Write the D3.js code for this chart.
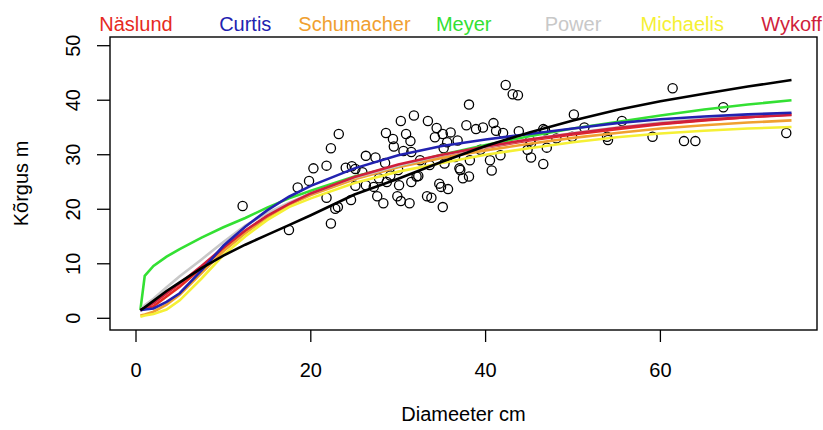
<!DOCTYPE html>
<html>
<head>
<meta charset="utf-8">
<script src="https://cdn.jsdelivr.net/npm/d3@7"></script>
<style>
  body { margin: 0; background: #fff; }
  text { font-family: "Liberation Sans", Arial, sans-serif; }
</style>
</head>
<body>
<div id="chart"></div>
<script>
// observed trees: diameter (cm) and height (m)
var diam = [12.2,17.5,18.5,19.8,20.3,21.8,22.3,23.2,21.8,22.8,23.1,22.3,24.0,24.7,24.6,25.1,26.3,26.3,27.4,27.2,
  27.6,28.3,30.3,31.8,28.6,29.4,30.9,31.4,29.5,30.6,33.4,34.4,34.2,35.1,36.0,35.6,36.8,38.1,37.8,38.9,
  39.7,40.9,41.2,42.0,42.3,43.1,43.7,43.8,29.1,30.1,31.5,32.3,29.9,30.3,31.3,33.3,33.8,34.7,34.9,35.7,
  35.1,35.3,37.0,37.4,38.1,40.5,40.7,45.2,46.6,47.0,45.2,44.8,50.1,46.6,51.3,55.6,53.9,54.0,48.1,59.1,
  61.4,62.7,64.0,67.2,74.4,49.9,30.0,32.1,37.1,36.5,35.2,45.1,46.8,31.5,28.7,25.1,27.8,32.5,33.6,39.4,
  41.7,38.2,25.9,28.5]
var height = [20.6,16.2,24.0,25.2,27.5,28.0,31.2,33.8,22.1,20.1,20.4,17.4,27.6,27.9,21.7,24.3,29.8,24.4,29.5,24.1,
  22.4,21.1,36.2,37.2,34.0,32.9,33.8,32.5,31.5,30.7,36.2,34.9,33.2,33.8,34.1,32.3,32.6,39.2,35.4,34.7,
  35.0,35.8,34.4,34.0,42.8,41.1,40.9,34.3,26.2,24.4,25.0,26.1,22.4,21.5,21.1,22.4,22.1,24.7,24.1,23.7,
  20.4,28.4,27.5,25.7,26.0,29.0,27.1,29.5,28.3,31.3,32.1,30.9,37.4,34.7,35.0,36.2,33.3,32.7,33.0,33.3,
  42.2,32.5,32.5,38.7,34.0,33.3,27.2,26.0,27.2,29.6,31.2,32.6,34.5,30.5,25.0,27.4,25.7,29.0,28.1,30.9,
  29.9,29.0,26.8,28.5]

// fitted curves at these diameters
var curveD = [0.5,1,2,3.5,5,7.5,10,12.5,15,17.5,20,25,30,35,40,45,50,55,60,65,70,75]
var naslund    = [1.5,1.7,2.2,4.0,5.8,9.2,12.8,16.0,18.7,21.0,22.9,25.8,28.0,29.8,31.3,32.6,33.7,34.7,35.6,36.3,36.9,37.4]
var curtis     = [1.5,1.6,1.8,3.0,4.6,8.8,13.3,16.8,19.8,22.3,24.3,27.5,29.9,31.6,32.8,33.8,34.8,35.8,36.5,37.0,37.4,37.7]
var schumacher = [0.5,0.7,1.2,2.5,4.3,8.3,12.3,15.6,18.5,20.8,22.6,25.5,27.7,29.4,30.8,32.0,33.1,34.0,34.8,35.4,35.9,36.3]
var meyer      = [1.5,7.8,9.6,11.3,12.7,14.8,16.7,18.4,20.3,22.0,23.4,26.0,28.0,30.0,31.8,33.4,34.8,36.0,37.2,38.3,39.2,40.0]
var power      = [1.5,2.4,3.6,5.7,7.7,10.8,14.0,17.0,19.3,21.2,22.9,25.8,28.0,29.9,31.4,32.8,34.0,35.0,35.9,36.6,37.1,37.5]
var michaelis  = [0.3,0.5,0.8,1.6,3.3,7.3,11.6,15.0,18.0,20.4,22.0,24.8,26.9,28.5,30.0,31.2,32.3,33.2,33.9,34.4,34.8,35.1]
var wykoff     = [1.5,1.9,2.8,4.6,6.4,9.6,13.0,16.1,18.8,21.0,22.9,25.9,28.2,30.0,31.5,32.8,33.9,34.9,35.7,36.4,36.9,37.3]
var smooth     = [1.5,2.0,3.2,5.0,6.6,9.2,11.5,13.5,15.3,17.1,18.9,22.7,25.6,28.7,31.6,34.1,36.3,38.2,39.8,41.2,42.5,43.7]

var modelNames  = ["Näslund","Curtis","Schumacher","Meyer","Power","Michaelis","Wykoff"]
var modelColors = ["#e62a22","#2222b0","#f0a030","#33e033","#c8c8c8","#f5f035","#d01f3c"]
var xTicks = [0,20,40,60]
var yTicks = [0,10,20,30,40,50]

var W = 823, H = 430
var box = {left:110, right:817, top:37, bottom:330}

var svg = d3.select("#chart").append("svg")
    .attr("width", W)
    .attr("height", H)

var x = d3.scaleLinear().domain([0,60]).range([136,660.4])
var y = d3.scaleLinear().domain([0,50]).range([318.3,45.7])

// curves, drawn in R's plotting order
var curves = {
  "Näslund":naslund, "Curtis":curtis, "Schumacher":schumacher, "Meyer":meyer,
  "Power":power, "Michaelis":michaelis, "Wykoff":wykoff
}
var drawOrder = ["Näslund","Schumacher","Meyer","Power","Michaelis","Wykoff","Curtis"]

var line = d3.line()
    .x(function(d){ return x(d[0]) })
    .y(function(d){ return y(d[1]) })

// points
svg.append("g").selectAll("circle")
    .data(diam.map(function(d,i){ return [d,height[i]] }))
    .enter().append("circle")
      .attr("cx", function(d){ return x(d[0]) })
      .attr("cy", function(d){ return y(d[1]) })
      .attr("r", 4.6)
      .attr("fill","none")
      .attr("stroke","#000")
      .attr("stroke-width",1.3)

drawOrder.forEach(function(name){
  var vals = curves[name]
  svg.append("path")
      .datum(curveD.map(function(d,i){ return [d, vals[i]] }))
      .attr("d", line)
      .attr("fill","none")
      .attr("stroke", modelColors[modelNames.indexOf(name)])
      .attr("stroke-width",2.6)
})

svg.append("path")
    .datum(curveD.map(function(d,i){ return [d, smooth[i]] }))
    .attr("d", line)
    .attr("fill","none")
    .attr("stroke","#000")
    .attr("stroke-width",2.6)

// box
svg.append("rect")
    .attr("x", box.left).attr("y", box.top)
    .attr("width", box.right-box.left).attr("height", box.bottom-box.top)
    .attr("fill","none").attr("stroke","#000").attr("stroke-width",1.4)

// x axis
var gx = svg.append("g")
gx.selectAll("line").data(xTicks).enter().append("line")
    .attr("x1", function(d){ return x(d) }).attr("x2", function(d){ return x(d) })
    .attr("y1", box.bottom).attr("y2", box.bottom+12)
    .attr("stroke","#000").attr("stroke-width",1.3)
gx.selectAll("text").data(xTicks).enter().append("text")
    .attr("x", function(d){ return x(d) })
    .attr("y", 377)
    .attr("text-anchor","middle")
    .attr("font-size",20)
    .text(function(d){ return d })

// y axis
var gy = svg.append("g")
gy.selectAll("line").data(yTicks).enter().append("line")
    .attr("x1", box.left-13).attr("x2", box.left)
    .attr("y1", function(d){ return y(d) }).attr("y2", function(d){ return y(d) })
    .attr("stroke","#000").attr("stroke-width",1.3)
gy.selectAll("text").data(yTicks).enter().append("text")
    .attr("transform", function(d){ return "translate(80,"+y(d)+") rotate(-90)" })
    .attr("text-anchor","middle")
    .attr("font-size",20)
    .text(function(d){ return d })

svg.append("text")
    .attr("x", (box.left+box.right)/2).attr("y", 421)
    .attr("text-anchor","middle").attr("font-size",20)
    .text("Diameeter cm")

svg.append("text")
    .attr("transform","translate(28,"+((box.top+box.bottom)/2)+") rotate(-90)")
    .attr("text-anchor","middle").attr("font-size",20)
    .text("Kõrgus m")

// legend across the top
svg.append("g").selectAll("text")
    .data(modelNames)
    .enter().append("text")
      .attr("x", function(d,i){ return x(i*12.5) })
      .attr("y", 31)
      .attr("text-anchor","middle")
      .attr("font-size",20)
      .attr("fill", function(d,i){ return modelColors[i] })
      .text(function(d){ return d })
</script>
</body>
</html>
